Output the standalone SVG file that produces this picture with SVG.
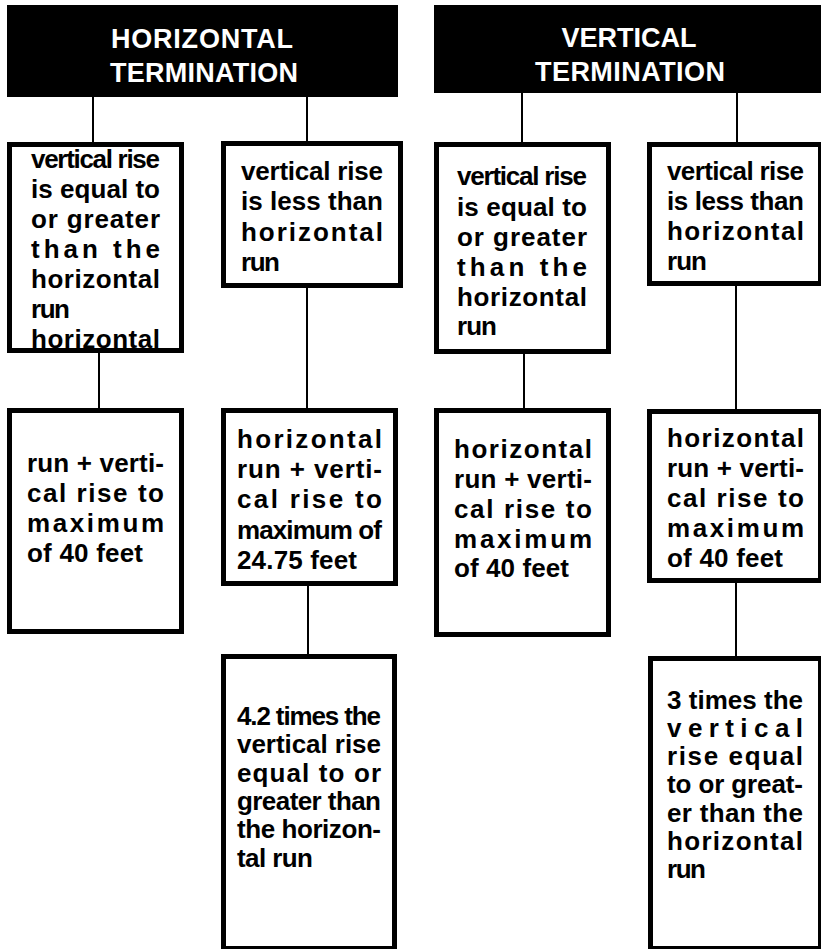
<svg xmlns="http://www.w3.org/2000/svg" width="821" height="949" viewBox="0 0 821 949">
<style>
.hdr{fill:#000}
.ht{font-family:"Liberation Sans",Arial,sans-serif;font-weight:bold;font-size:27px;fill:#fff;text-anchor:middle}
.bx{fill:none;stroke:#000;stroke-width:5}
.bg{fill:#fff}
.t{font-family:"Liberation Sans",Arial,sans-serif;font-weight:bold;font-size:26px;fill:#000}
.c{stroke:#000;stroke-width:2;fill:none}
</style>
<rect width="821" height="949" fill="#fff"/>
<g id="connectors">
<line class="c" x1="93" y1="97" x2="93" y2="143"/>
<line class="c" x1="307" y1="97" x2="307" y2="142"/>
<line class="c" x1="522" y1="93" x2="522" y2="143"/>
<line class="c" x1="737" y1="93" x2="737" y2="143"/>
<line class="c" x1="99" y1="352" x2="99" y2="409"/>
<line class="c" x1="307" y1="287" x2="307" y2="409"/>
<line class="c" x1="308" y1="585" x2="308" y2="655"/>
<line class="c" x1="524" y1="353" x2="524" y2="409"/>
<line class="c" x1="736" y1="285" x2="736" y2="410"/>
<line class="c" x1="736" y1="582" x2="736" y2="657"/>
</g>
<g id="h-term">
<rect class="hdr" x="7" y="5" width="391" height="92"/>
<text class="ht" x="202" y="48" textLength="182" lengthAdjust="spacing">HORIZONTAL</text>
<text class="ht" x="204" y="82" textLength="188" lengthAdjust="spacing">TERMINATION</text>
</g>
<g id="v-term">
<rect class="hdr" x="434" y="5" width="390" height="88"/>
<text class="ht" x="629" y="47" textLength="135" lengthAdjust="spacing">VERTICAL</text>
<text class="ht" x="630" y="81" textLength="190" lengthAdjust="spacing">TERMINATION</text>
</g>
<g id="h-equal">
<rect class="bg" x="9.5" y="144.5" width="172" height="206"/>
<text class="t" x="31" y="168" textLength="129" lengthAdjust="spacing">vertical rise</text>
<text class="t" x="31" y="198" textLength="129" lengthAdjust="spacing">is equal to</text>
<text class="t" x="31" y="228" textLength="129" lengthAdjust="spacing">or greater</text>
<text class="t" x="31" y="258" textLength="129" lengthAdjust="spacing">than the</text>
<text class="t" x="31" y="288" textLength="129" lengthAdjust="spacing">horizontal</text>
<text class="t" x="31" y="318" textLength="39" lengthAdjust="spacing">run</text>
<text class="t" x="31" y="348" textLength="129" lengthAdjust="spacing">horizontal</text>
<rect class="bx" x="9.5" y="144.5" width="172" height="206"/>
</g>
<g id="h-less">
<rect class="bg bx" x="223.5" y="143.5" width="177" height="142"/>
<text class="t" x="241" y="180" textLength="142" lengthAdjust="spacing">vertical rise</text>
<text class="t" x="241" y="210" textLength="142" lengthAdjust="spacing">is less than</text>
<text class="t" x="241" y="241" textLength="142" lengthAdjust="spacing">horizontal</text>
<text class="t" x="241" y="271" textLength="39" lengthAdjust="spacing">run</text>
</g>
<g id="h-equal-max">
<rect class="bg bx" x="9.5" y="410.5" width="172" height="221"/>
<text class="t" x="27" y="472" textLength="137" lengthAdjust="spacing">run + verti-</text>
<text class="t" x="27" y="502" textLength="137" lengthAdjust="spacing">cal rise to</text>
<text class="t" x="27" y="532" textLength="137" lengthAdjust="spacing">maximum</text>
<text class="t" x="27" y="562" textLength="116" lengthAdjust="spacing">of 40 feet</text>
</g>
<g id="h-less-max">
<rect class="bg bx" x="223.5" y="410.5" width="172" height="173"/>
<text class="t" x="237" y="448" textLength="145" lengthAdjust="spacing">horizontal</text>
<text class="t" x="237" y="478" textLength="145" lengthAdjust="spacing">run + verti-</text>
<text class="t" x="237" y="508" textLength="145" lengthAdjust="spacing">cal rise to</text>
<text class="t" x="237" y="539" textLength="145" lengthAdjust="spacing">maximum of</text>
<text class="t" x="237" y="569" textLength="120" lengthAdjust="spacing">24.75 feet</text>
</g>
<g id="h-less-times">
<rect class="bg bx" x="223.5" y="656.5" width="171" height="292"/>
<text class="t" x="237" y="725" textLength="144" lengthAdjust="spacing">4.2 times the</text>
<text class="t" x="237" y="753" textLength="144" lengthAdjust="spacing">vertical rise</text>
<text class="t" x="237" y="782" textLength="144" lengthAdjust="spacing">equal to or</text>
<text class="t" x="237" y="810" textLength="144" lengthAdjust="spacing">greater than</text>
<text class="t" x="237" y="838" textLength="144" lengthAdjust="spacing">the horizon-</text>
<text class="t" x="237" y="867" textLength="76" lengthAdjust="spacing">tal run</text>
</g>
<g id="v-equal">
<rect class="bg bx" x="436.5" y="144.5" width="172" height="207"/>
<text class="t" x="457" y="185" textLength="130" lengthAdjust="spacing">vertical rise</text>
<text class="t" x="457" y="216" textLength="130" lengthAdjust="spacing">is equal to</text>
<text class="t" x="457" y="246" textLength="130" lengthAdjust="spacing">or greater</text>
<text class="t" x="457" y="276" textLength="130" lengthAdjust="spacing">than the</text>
<text class="t" x="457" y="306" textLength="130" lengthAdjust="spacing">horizontal</text>
<text class="t" x="457" y="335" textLength="40" lengthAdjust="spacing">run</text>
</g>
<g id="v-less">
<rect class="bg bx" x="649.5" y="144.5" width="171" height="139"/>
<text class="t" x="667" y="180" textLength="137" lengthAdjust="spacing">vertical rise</text>
<text class="t" x="667" y="210" textLength="137" lengthAdjust="spacing">is less than</text>
<text class="t" x="667" y="240" textLength="137" lengthAdjust="spacing">horizontal</text>
<text class="t" x="667" y="270" textLength="40" lengthAdjust="spacing">run</text>
</g>
<g id="v-equal-max">
<rect class="bg bx" x="436.5" y="410.5" width="172" height="224"/>
<text class="t" x="454" y="458" textLength="138" lengthAdjust="spacing">horizontal</text>
<text class="t" x="454" y="488" textLength="138" lengthAdjust="spacing">run + verti-</text>
<text class="t" x="454" y="518" textLength="138" lengthAdjust="spacing">cal rise to</text>
<text class="t" x="454" y="548" textLength="138" lengthAdjust="spacing">maximum</text>
<text class="t" x="454" y="577" textLength="115" lengthAdjust="spacing">of 40 feet</text>
</g>
<g id="v-less-max">
<rect class="bg bx" x="649.5" y="411.5" width="171" height="169"/>
<text class="t" x="667" y="447" textLength="137" lengthAdjust="spacing">horizontal</text>
<text class="t" x="667" y="477" textLength="137" lengthAdjust="spacing">run + verti-</text>
<text class="t" x="667" y="507" textLength="137" lengthAdjust="spacing">cal rise to</text>
<text class="t" x="667" y="537" textLength="137" lengthAdjust="spacing">maximum</text>
<text class="t" x="667" y="567" textLength="116" lengthAdjust="spacing">of 40 feet</text>
</g>
<g id="v-less-times">
<rect class="bg bx" x="650.5" y="658.5" width="170" height="290"/>
<text class="t" x="667" y="709" textLength="136" lengthAdjust="spacing">3 times the</text>
<text class="t" x="667" y="737" textLength="136" lengthAdjust="spacing">vertical</text>
<text class="t" x="667" y="765" textLength="136" lengthAdjust="spacing">rise equal</text>
<text class="t" x="667" y="793" textLength="136" lengthAdjust="spacing">to or great-</text>
<text class="t" x="667" y="822" textLength="136" lengthAdjust="spacing">er than the</text>
<text class="t" x="667" y="850" textLength="136" lengthAdjust="spacing">horizontal</text>
<text class="t" x="667" y="878" textLength="39" lengthAdjust="spacing">run</text>
</g>
</svg>
